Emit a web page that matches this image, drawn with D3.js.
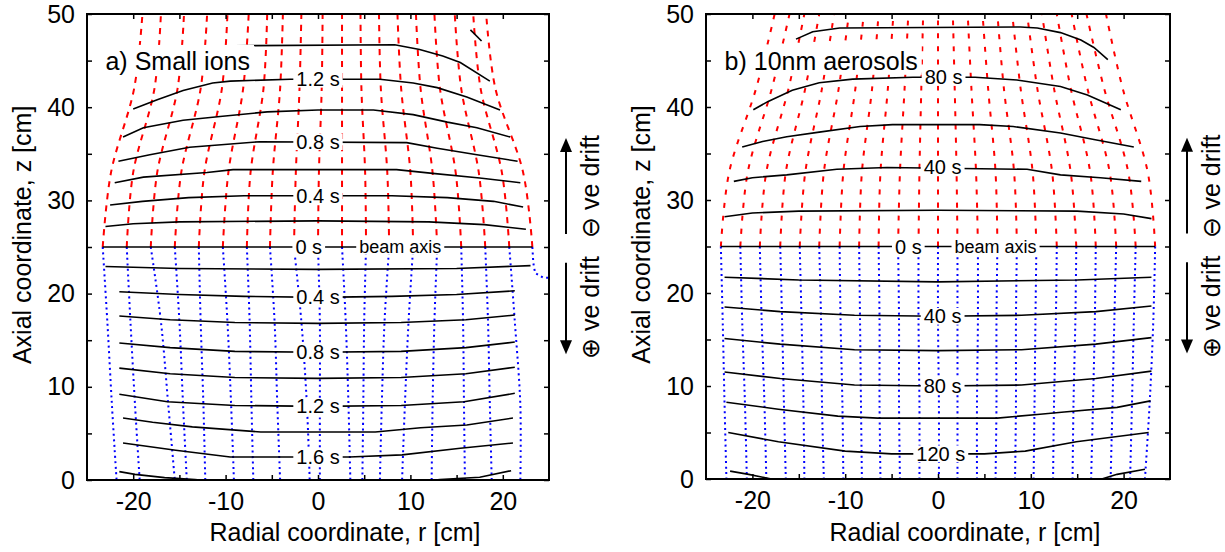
<!DOCTYPE html>
<html><head><meta charset="utf-8">
<script src="https://cdn.jsdelivr.net/npm/d3@7"></script>
<style>
body{margin:0;background:#fff}
svg{display:block}
text{font-family:"Liberation Sans",Arial,sans-serif;fill:#000}
</style>
</head><body>
<svg id="c" width="1225" height="552"></svg>
<script>
// ---------- data (r [cm], z [cm]) ----------
const xTicks = [-20,-15,-10,-5,0,5,10,15,20];
const yTicks = [0,5,10,15,20,25,30,35,40,45,50];
const zUp = [25, 33, 42, 50];
const zDown = [25, 17, 8, 0];

// panel a: small ions, trajectories (r at each z level)
const redA = [
[-23.3,-22.4,-19.9,-19.0],[-20.7,-20.0,-17.7,-17.0],[-18.1,-17.4,-15.2,-14.5],
[-15.5,-14.8,-12.7,-12.0],[-12.9,-12.3,-10.4,-9.8],[-10.3,-9.7,-8.1,-7.5],
[-7.7,-7.3,-5.9,-5.5],[-5.2,-4.9,-4.1,-3.8],[-2.6,-2.4,-2.0,-1.8],
[0.0,0.1,0.4,0.5],[2.6,2.6,2.6,2.6],[5.2,5.1,4.7,4.6],[7.7,7.5,6.8,6.6],
[10.3,10.0,9.0,8.6],[12.9,12.4,11.1,10.6],[15.5,14.9,13.2,12.6],
[18.1,17.4,15.5,14.8],[20.7,19.9,17.6,16.8],[23.2,22.2,19.2,18.2]
];
const blueA = [
[-23.3,-22.8,-22.3,-21.8],[-20.7,-20.3,-19.8,-19.3],[-18.1,-17.0,-16.2,-15.5],
[-15.5,-15.0,-14.6,-14.2],[-12.9,-12.7,-12.4,-12.2],[-10.3,-9.8,-9.4,-9.1],
[-7.7,-7.4,-7.2,-7.0],[-5.2,-4.7,-4.4,-4.1],[-2.6,-1.8,-1.2,-0.9],
[0.0,0.2,0.2,0.2],[2.6,3.0,3.3,3.5],[5.2,5.0,4.9,4.8],[7.7,7.2,6.9,6.7],
[10.3,9.8,9.4,9.1],[12.9,12.6,12.4,12.3],[15.5,15.7,15.8,15.9],
[18.1,18.4,18.6,18.8],[20.7,21.3,21.9,21.9]
];
const blueAextra = [[23.2,25],[23.3,23.3],[23.5,22.2],[24.4,21.7],[25.1,21.7]];

const isoA = [
 {pts:[[-23.0,27.2],[-20,27.5],[-15,27.7],[0,27.8],[12,27.7],[18,27.4],[22.5,26.9]]},
 {pts:[[-22.5,29.5],[-19,29.9],[-14,30.3],[-8,30.5],[8,30.5],[14,30.3],[19,29.9],[22.2,29.3]], lab:"0.4 s", lr:0, lz:30.5},
 {pts:[[-22.0,31.9],[-18.9,32.5],[-12.0,33.0],[-9.2,33.3],[8.5,33.3],[12.4,32.9],[17.5,32.4],[21.9,31.9]]},
 {pts:[[-21.6,34.2],[-18.2,34.9],[-13.9,35.7],[-6.3,36.3],[9.6,36.2],[12.9,35.6],[17.2,34.9],[21.6,34.2]], lab:"0.8 s", lr:0, lz:36.3},
 {pts:[[-21.1,36.8],[-18.9,37.8],[-14.6,38.6],[-10.6,39.0],[-5.5,39.5],[0,39.7],[6,39.7],[10.3,39.2],[14.0,38.4],[17.2,37.8],[20.8,36.8]]},
 {pts:[[-20.0,39.8],[-17.4,40.8],[-14.6,41.8],[-11.4,42.6],[-9.5,42.8],[-3.0,43.0],[6.7,43.0],[10.3,42.6],[12.9,42.1],[16.1,41.1],[19.7,39.7]], lab:"1.2 s", lr:0, lz:43.0},
 {pts:[[-9,46.6],[8.3,46.7],[11.0,46.2],[13.5,45.5],[15.4,44.8],[18.6,42.8]]},
 {pts:[[16.5,48.3],[17.7,47.1]]},
 {pts:[[-23.0,22.9],[-15,22.7],[0,22.6],[15,22.7],[23.0,23.0]]},
 {pts:[[-21.5,20.2],[-15,19.9],[-8,19.7],[0,19.6],[8,19.7],[15,19.9],[21.3,20.3]], lab:"0.4 s", lr:0, lz:19.6},
 {pts:[[-21.5,17.6],[-16,17.2],[-9,16.9],[0,16.8],[9,16.9],[16,17.2],[21.3,17.7]]},
 {pts:[[-21.5,14.7],[-16,14.2],[-9,13.8],[0,13.7],[9,13.8],[16,14.2],[21.3,14.8]], lab:"0.8 s", lr:0, lz:13.7},
 {pts:[[-21.5,12.0],[-16,11.4],[-9,11.0],[0,10.9],[9,11.0],[16,11.4],[21.3,12.1]]},
 {pts:[[-21.5,9.2],[-16.3,8.4],[-9,8.0],[0,7.9],[9,8.0],[15.8,8.4],[21.3,9.3]], lab:"1.2 s", lr:0, lz:7.9},
 {pts:[[-21.1,6.65],[-17.9,6.2],[-13.6,5.7],[-6.2,5.15],[6.2,5.15],[11.1,5.6],[16.1,5.9],[21.1,6.65]]},
 {pts:[[-21.1,3.97],[-15.4,3.2],[-9.5,2.47],[3.4,2.47],[9.1,2.7],[15.4,3.4],[21.1,3.97]], lab:"1.6 s", lr:0, lz:2.47},
 {pts:[[-21.5,0.9],[-19.8,0.6],[-16.6,0.25],[-13.3,0.05],[-10,-0.3],[10,-0.3],[13.2,0.05],[17.5,0.3],[20.9,1.0]]}
];
const beamA = {r:[-23.3,23.2], z:25, t0:-1.0, tb:8.9};

// panel b: 10 nm aerosols
const redB = [
[-23.4,-22.5,-19.6,-17.6],[-21.3,-20.5,-17.9,-16.0],[-19.2,-18.5,-16.1,-14.4],
[-17.0,-16.4,-14.3,-12.8],[-14.9,-14.3,-12.5,-11.2],[-12.8,-12.3,-10.7,-9.6],
[-10.6,-10.2,-8.9,-8.0],[-8.5,-8.2,-7.1,-6.4],[-6.4,-6.2,-5.4,-4.8],
[-4.3,-4.1,-3.6,-3.2],[-2.1,-2.0,-1.8,-1.6],[0.0,0.0,0.0,0.0],
[2.1,2.0,1.8,1.6],[4.3,4.1,3.6,3.2],[6.4,6.2,5.4,4.8],[8.5,8.2,7.1,6.4],
[10.6,10.2,8.9,8.0],[12.8,12.3,10.7,9.6],[14.9,14.3,12.5,11.2],
[17.0,16.4,14.3,12.8],[19.2,18.5,16.1,14.4],[21.3,20.5,17.9,16.0],[23.4,22.6,19.9,18.1]
];
const blueB = [
[-23.4,-23.2,-23.0,-22.8],[-21.3,-21.1,-20.8,-20.6],[-19.2,-19.0,-18.7,-18.5],
[-17.0,-16.8,-16.6,-16.4],[-14.9,-14.7,-14.5,-14.4],[-12.8,-12.6,-12.5,-12.3],
[-10.6,-10.5,-10.3,-10.2],[-8.5,-8.4,-8.3,-8.2],[-6.4,-6.3,-6.3,-6.2],
[-4.3,-4.2,-4.2,-4.1],[-2.1,-2.1,-2.0,-2.0],[0.0,0.0,0.1,0.1],
[2.1,2.1,2.1,2.1],[4.3,4.3,4.2,4.2],[6.4,6.3,6.3,6.2],[8.5,8.4,8.4,8.3],
[10.6,10.5,10.4,10.3],[12.8,12.7,12.5,12.4],[14.9,14.8,14.6,14.5],
[17.0,16.9,16.7,16.5],[19.2,19.0,18.8,18.6],[21.3,21.1,20.9,20.7],[23.4,23.2,22.8,22.3]
];
const isoB = [
 {pts:[[-23.0,28.2],[-20,28.6],[-15,28.8],[0,28.9],[15,28.8],[20,28.5],[23.0,28.0]]},
 {pts:[[-22.0,32.0],[-20.0,32.4],[-16.3,32.7],[-10.9,33.3],[-5.5,33.5],[9.6,33.3],[13.2,32.7],[17.5,32.4],[21.9,32.0]], lab:"40 s", lr:0.5, lz:33.5},
 {pts:[[-21.1,35.7],[-18.9,36.3],[-16.3,36.8],[-12.8,37.3],[-8.4,37.9],[-4.9,38.1],[4.5,38.1],[8.1,37.9],[13.2,37.2],[16.8,36.5],[21.1,35.7]]},
 {pts:[[-19.9,39.7],[-18.3,40.6],[-15.7,41.8],[-12.8,42.6],[-9.2,43.0],[-2.7,43.2],[4,43.2],[8.5,42.9],[13.2,42.2],[16.1,41.3],[19.7,39.7]], lab:"80 s", lr:0.6, lz:43.2},
 {pts:[[-15.3,47.3],[-13.5,48.1],[-10.6,48.5],[8.9,48.6],[10.7,48.5],[13.2,48.0],[15.4,47.2],[16.8,46.4],[18.3,45.1]]},
 {pts:[[-23.0,21.7],[-15,21.4],[0,21.2],[15,21.4],[23.0,21.7]]},
 {pts:[[-23.0,18.5],[-17,18.0],[-9,17.6],[0,17.5],[9,17.6],[17,18.0],[23.0,18.6]], lab:"40 s", lr:0.5, lz:17.5},
 {pts:[[-23,15.1],[-17,14.5],[-9,13.9],[0,13.8],[9,13.9],[17,14.5],[23,15.2]]},
 {pts:[[-23,11.5],[-17,10.8],[-9,10.1],[0,10.0],[9,10.1],[17,10.8],[23,11.6]], lab:"80 s", lr:0.5, lz:10.0},
 {pts:[[-22.8,8.26],[-17.2,7.5],[-10.8,6.76],[-6.5,6.55],[6.4,6.55],[11.0,6.97],[13.6,7.2],[19.3,7.7],[22.9,8.4]]},
 {pts:[[-22.6,5.0],[-17.2,4.0],[-10,3.0],[-5,2.7],[5,2.7],[9.4,3.0],[14.9,4.0],[22.7,5.0]], lab:"120 s", lr:0.3, lz:2.7},
 {pts:[[-22.4,0.85],[-20.4,0.5],[-17,-0.2],[17,-0.2],[19.3,0.5],[22.3,1.05]]}
];
const beamB = {r:[-23.4,23.4], z:25, t0:-3.2, tb:6.2};

const panels = [
 {key:"a", left:87, right:549, top:14, bottom:480, title:"a) Small ions",
  red:redA, blue:blueA, extra:[blueAextra], iso:isoA, beam:beamA},
 {key:"b", left:706, right:1170, top:14, bottom:479, title:"b) 10nm aerosols",
  red:redB, blue:blueB, extra:[], iso:isoB, beam:beamB}
];

const svg = d3.select("#c");
const RED = "#ff0000", BLUE = "#0000ff";

panels.forEach((p, pi) => {
  const x = d3.scaleLinear().domain([-25,25]).range([p.left, p.right]);
  const y = d3.scaleLinear().domain([0,50]).range([p.bottom, p.top]);
  const g = svg.append("g");
  const clipId = "clip" + p.key;
  svg.append("clipPath").attr("id", clipId).append("rect")
    .attr("x", p.left).attr("y", p.top).attr("width", p.right-p.left).attr("height", p.bottom-p.top);
  const plot = g.append("g").attr("clip-path", `url(#${clipId})`);
  const line = d3.line().x(d=>x(d[0])).y(d=>y(d[1])).curve(d3.curveCatmullRom);
  const lin = d3.line().x(d=>x(d[0])).y(d=>y(d[1]));

  // trajectories
  plot.selectAll(".red").data(p.red).join("path")
    .attr("d", rs => line(rs.map((r,i)=>[r, zUp[i]])))
    .attr("fill","none").attr("stroke",RED).attr("stroke-width",2)
    .attr("stroke-dasharray", pi===0 ? "6,6" : "5,8");
  plot.selectAll(".blue").data(p.blue).join("path")
    .attr("d", rs => line(rs.map((r,i)=>[r, zDown[i]])))
    .attr("fill","none").attr("stroke",BLUE).attr("stroke-width",2)
    .attr("stroke-dasharray","2,3.5");
  p.extra.forEach(ex => plot.append("path").attr("d", lin(ex))
    .attr("fill","none").attr("stroke",BLUE).attr("stroke-width",2).attr("stroke-dasharray","2,3.5"));

  // isochrones
  plot.selectAll(".iso").data(p.iso).join("path")
    .attr("d", c => lin(c.pts)).attr("fill","none").attr("stroke","#000").attr("stroke-width",1.6);
  // beam axis
  plot.append("path").attr("d", lin([[p.beam.r[0],p.beam.z],[p.beam.r[1],p.beam.z]]))
    .attr("stroke","#000").attr("stroke-width",1.6);

  function label(txt, r, z, size) {
    const t = g.append("text").attr("x", x(r)).attr("y", y(z)).attr("text-anchor","middle")
      .attr("dominant-baseline","central").style("font-size", size+"px").text(txt);
    const bb = t.node().getBBox();
    g.insert("rect", function(){ return t.node(); })
      .attr("x", bb.x-3).attr("y", y(z)-size*0.42).attr("width", bb.width+6).attr("height", size*0.84)
      .attr("fill","#fff");
  }
  p.iso.filter(c=>c.lab).forEach(c => label(c.lab, c.lr, c.lz, 20));
  label("0 s", p.beam.t0, p.beam.z, 20);
  label("beam axis", p.beam.tb, p.beam.z, 18);

  // panel title with white box
  const tt = g.append("text").attr("x", x(-23.0)).attr("y", y(44.0)).style("font-size","25px").text(p.title);
  const tb = tt.node().getBBox();
  g.insert("rect", function(){ return tt.node(); })
    .attr("x", tb.x-6).attr("y", tb.y-2).attr("width", tb.width+10).attr("height", tb.height+2).attr("fill","#fff");

  // axes
  const fmt = d => (d % 10 === 0 ? String(d) : "");
  const ax = g.append("g").attr("transform",`translate(0,${p.bottom})`)
    .call(d3.axisBottom(x).tickValues(xTicks).tickSize(-5).tickPadding(12).tickFormat(fmt));
  const ax2 = g.append("g").attr("transform",`translate(0,${p.top})`)
    .call(d3.axisTop(x).tickValues(xTicks).tickSize(-5).tickFormat(""));
  const ay = g.append("g").attr("transform",`translate(${p.left},0)`)
    .call(d3.axisLeft(y).tickValues(yTicks).tickSize(-5).tickPadding(12).tickFormat(fmt));
  const ay2 = g.append("g").attr("transform",`translate(${p.right},0)`)
    .call(d3.axisRight(y).tickValues(yTicks).tickSize(-5).tickFormat(""));
  [ax,ax2,ay,ay2].forEach(a => {
    a.select(".domain").remove();
    a.selectAll("line").attr("stroke","#000").attr("stroke-width",1.5);
    a.selectAll("text").style("font-size","25px").style("font-family",'"Liberation Sans",Arial,sans-serif').attr("fill","#000");
  });
  g.append("rect").attr("x",p.left).attr("y",p.top).attr("width",p.right-p.left).attr("height",p.bottom-p.top)
    .attr("fill","none").attr("stroke","#000").attr("stroke-width",2);

  // axis titles
  g.append("text").attr("x",(p.left+p.right)/2+27).attr("y",541).attr("text-anchor","middle")
    .style("font-size","25px").text("Radial coordinate, r [cm]");
  g.append("text").attr("transform",`translate(${p.left-56},${y(26.3)}) rotate(-90)`).attr("text-anchor","middle")
    .style("font-size","25px").text("Axial coordinate, z [cm]");

  // drift arrows
  const axx = p.right + 17;
  g.append("line").attr("x1",axx).attr("x2",axx).attr("y1",y(26.4)).attr("y2",y(36.0)).attr("stroke","#000").attr("stroke-width",2);
  g.append("path").attr("d",`M${axx},${y(36.7)} L${axx-6},${y(35.2)} L${axx+6},${y(35.2)} Z`).attr("fill","#000");
  g.append("line").attr("x1",axx).attr("x2",axx).attr("y1",y(23.3)).attr("y2",y(14.3)).attr("stroke","#000").attr("stroke-width",2);
  g.append("path").attr("d",`M${axx},${y(13.5)} L${axx-6},${y(15.0)} L${axx+6},${y(15.0)} Z`).attr("fill","#000");
  g.append("text").attr("transform",`translate(${p.right+50},${y(31.5)}) rotate(-90)`).attr("text-anchor","middle")
    .style("font-size","25px").text("\u2296 ve drift");
  g.append("text").attr("transform",`translate(${p.right+50},${y(18.5)}) rotate(-90)`).attr("text-anchor","middle")
    .style("font-size","25px").text("\u2295 ve drift");
});
</script>
</body></html>
